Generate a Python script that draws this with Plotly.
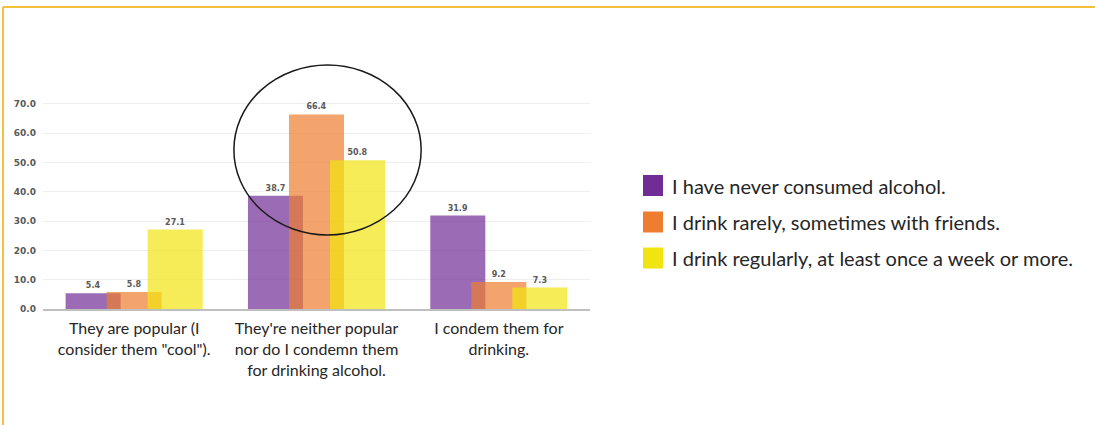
import plotly.graph_objects as go

# Survey answers: how do you view peers who drink alcohol?
categories = [
    "They are popular (I<br>consider them \"cool\").",
    "They're neither popular<br>nor do I condemn them<br>for drinking alcohol.",
    "I condem them for<br>drinking.",
]
series_names = [
    "I have never consumed alcohol.",
    "I drink rarely, sometimes with friends.",
    "I drink regularly, at least once a week or more.",
]
never_vals = [5.4, 38.7, 31.9]
rarely_vals = [5.8, 66.4, 9.2]
regularly_vals = [27.1, 50.8, 7.3]
y_ticks = [0, 10, 20, 30, 40, 50, 60, 70]

series_values = [never_vals, rarely_vals, regularly_vals]
colors = ["#702d96", "#ee7d2f", "#f2e410"]

W, H = 1095, 425
L, R, T, B = 43, 590, 60, 309
Y_TOP = 85

BAR_W = 0.302
STEP = 0.225

fig = go.Figure()
for i, (name, vals, col) in enumerate(zip(series_names, series_values, colors)):
    center = (i - 1) * STEP
    fig.add_trace(go.Bar(
        x=categories,
        y=vals,
        name=name,
        width=BAR_W,
        offset=center - BAR_W / 2,
        marker=dict(color=col, opacity=0.7, line=dict(width=0)),
        texttemplate="%{y:.1f}",
        textposition="outside",
        textfont=dict(family="DejaVu Sans", size=8, color="#595959", weight="bold"),
        cliponaxis=False,
        showlegend=False,
    ))


def px_x(px):
    return (px - L) / (R - L)


def px_y(py):
    return (B - py) / (B - T)


shapes = []
# outer frame: top and left rules
frame_col = "#f5c03a"
shapes.append(dict(type="line", xref="paper", yref="paper",
                   x0=px_x(3), x1=px_x(W + 5), y0=px_y(7), y1=px_y(7),
                   line=dict(color=frame_col, width=2)))
shapes.append(dict(type="line", xref="paper", yref="paper",
                   x0=px_x(3), x1=px_x(3), y0=px_y(7), y1=px_y(H + 5),
                   line=dict(color=frame_col, width=2)))

# ellipse highlighting the middle group
shapes.append(dict(type="circle", xref="x", yref="y",
                   x0=0.547, x1=1.574, y0=25.3, y1=83.3,
                   line=dict(color="#1a1a1a", width=1.5),
                   fillcolor="rgba(0,0,0,0)", layer="above"))

# legend built from the series list
annotations = []
legend_rows = [185.5, 222, 258]
for name, col, cy in zip(series_names, colors, legend_rows):
    shapes.append(dict(type="rect", xref="paper", yref="paper",
                       x0=px_x(643), x1=px_x(663),
                       y0=px_y(cy + 10.5), y1=px_y(cy - 10.5),
                       fillcolor=col, line=dict(width=0)))
    annotations.append(dict(xref="paper", yref="paper",
                            x=px_x(670), y=px_y(cy),
                            xanchor="left", yanchor="middle",
                            text=name, showarrow=False,
                            font=dict(family="Lato", size=20, color="#262626")))

fig.update_layout(
    width=W, height=H,
    margin=dict(l=L, r=W - R, t=T, b=H - B),
    paper_bgcolor="white",
    plot_bgcolor="white",
    barmode="overlay",
    shapes=shapes,
    annotations=annotations,
    xaxis=dict(
        type="category",
        showline=True, linecolor="#bfbfbf", linewidth=2,
        showgrid=False, ticks="",
        ticklabelstandoff=4,
        tickfont=dict(family="Lato", size=16, color="#262626"),
    ),
    yaxis=dict(
        range=[0, Y_TOP],
        tickvals=y_ticks,
        ticktext=[f"{v:.1f}" for v in y_ticks],
        showgrid=True, gridcolor="#efefef", gridwidth=1,
        zeroline=False, showline=False, ticks="",
        ticklabelstandoff=6,
        tickfont=dict(family="DejaVu Sans", size=9, color="#595959", weight="bold"),
    ),
)

fig.write_html("out.html")
